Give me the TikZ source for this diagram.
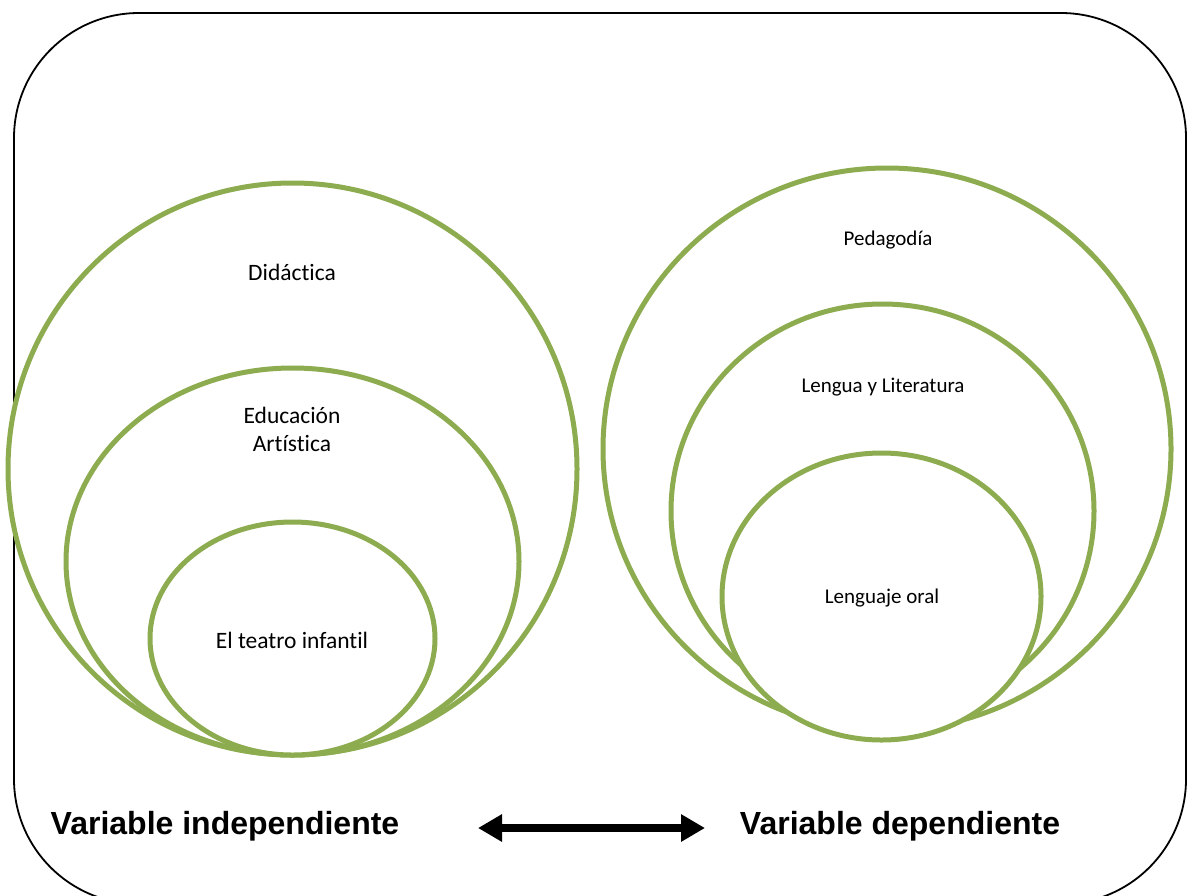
\documentclass[tikz,border=0pt]{standalone}
\usepackage{fontspec}
\setmainfont{Carlito}[Ligatures={NoCommon,NoRare,NoDiscretionary}]
\newfontfamily\arialbold{Liberation Sans}
\usetikzlibrary{shapes.geometric,arrows.meta}
\definecolor{olive}{RGB}{141,172,80}
\tikzset{
  ring/.style={ellipse, draw=olive, line width=5pt, fill=white, inner sep=0pt},
  lbl/.style={font=\fontsize{23.5}{28}\selectfont, align=center, text=black},
  lbls/.style={font=\fontsize{21}{25}\selectfont, align=center, text=black},
  varlbl/.style={font=\arialbold\bfseries\fontsize{32}{38}\selectfont, text=black},
  frame/.style={draw=black, line width=1.8pt, rounded corners=125pt}
}
\begin{document}
\begin{tikzpicture}[x=1pt,y=-1pt]
\useasboundingbox (0,0) rectangle (1193,895);
\begin{scope}
\clip (0,0) rectangle (1193,895);
\draw[frame] (14,13) rectangle (1186,904);
\end{scope}
% left set
\node[ring, minimum width=569pt, minimum height=572pt] (didR) at (292.5,469) {};
\node[ring, minimum width=453pt, minimum height=387pt] (eduR) at (292.5,561.5) {};
\node[ring, minimum width=285pt, minimum height=233pt] (teaR) at (292.5,638.5) {};
% right set
\node[ring, minimum width=568pt, minimum height=562pt] (pedR) at (887,449) {};
\node[ring, minimum width=423pt, minimum height=414pt] (lenR) at (882.5,511) {};
\node[ring, minimum width=319pt, minimum height=287pt] (oraR) at (881.5,596.5) {};
% labels
\node[lbl] (did) at (292,272) {Didáctica};
\node[lbl] (edu) at (292,429) {Educación\\Artística};
\node[lbl] (tea) at (292,640) {El teatro infantil};
\node[lbls] (ped) at (888,240) {Pedagodía};
\node[lbls] (len) at (883,387) {Lengua y Literatura};
\node[lbls] (ora) at (882,598) {Lenguaje oral};
\node[varlbl] (vi) at (225,826) {Variable independiente};
\node[varlbl] (vd) at (900,826) {Variable dependiente};
% arrow
\coordinate (aL) at (478,828);
\coordinate (aR) at (705,828);
\draw[line width=8pt, {Triangle[length=24pt,width=26pt]}-{Triangle[length=24pt,width=26pt]}] (aL) -- (aR);
\end{tikzpicture}
\end{document}
